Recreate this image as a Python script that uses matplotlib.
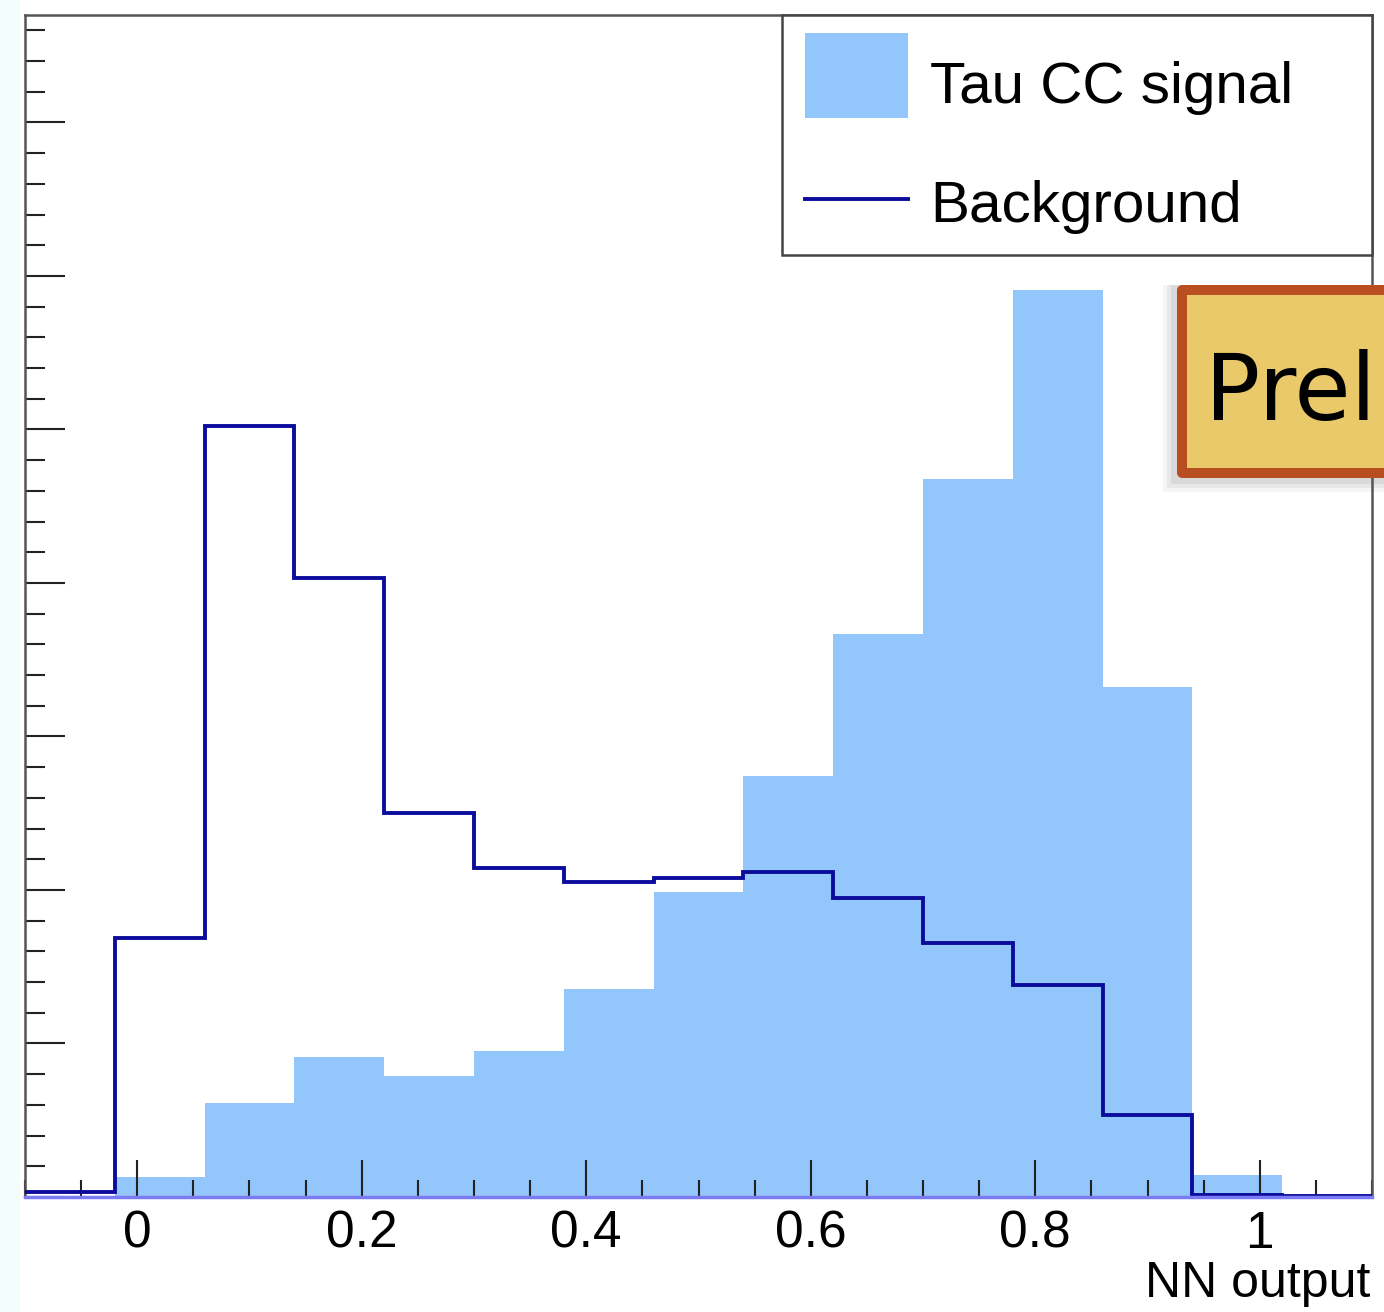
import matplotlib
matplotlib.use('Agg')
import matplotlib.pyplot as plt
from matplotlib.patches import Rectangle
from matplotlib.lines import Line2D
from matplotlib.ticker import MultipleLocator, FixedLocator

# ---------------- data ----------------
bin_edges = [-0.10, -0.02, 0.06, 0.14, 0.22, 0.30, 0.38, 0.46, 0.54,
             0.62, 0.70, 0.78, 0.86, 0.94, 1.02, 1.10]
signal = [0.0, 0.13, 0.61, 0.91, 0.79, 0.95, 1.355, 1.99, 2.74,
          3.67, 4.68, 5.91, 3.32, 0.143, 0.0]
background = [0.033, 1.69, 5.02, 4.03, 2.50, 2.14, 2.05, 2.08, 2.12,
              1.95, 1.655, 1.38, 0.535, 0.015, 0.006]
x_ticks = [0.0, 0.2, 0.4, 0.6, 0.8, 1.0]
x_tick_labels = ['0', '0.2', '0.4', '0.6', '0.8', '1']
series_labels = ['Tau CC signal', 'Background']
x_title = 'NN output'
stamp_text = 'Prel'

# ---------------- style ----------------
plt.rcParams['font.family'] = ['Liberation Sans', 'DejaVu Sans']
SIG_COLOR = '#93c6fa'
BKG_COLOR = '#0c0c9c'

W, H = 1384, 1312
fig = plt.figure(figsize=(W / 100, H / 100), dpi=100)
fig.patch.set_facecolor('white')


def fx(x):
    return x / W


def fy(y):
    return 1 - y / H


# faint left strip
fig.add_artist(Rectangle((0, 0), fx(20), 1, transform=fig.transFigure,
                         facecolor='#f3fdfd', edgecolor='none', zorder=0))

ax = fig.add_axes([fx(25), fy(1197), fx(1372) - fx(25), fy(15) - fy(1197)])
ax.set_facecolor('white')

ax.stairs(signal, bin_edges, fill=True, color=SIG_COLOR, lw=0, zorder=1)
ax.stairs(background, bin_edges, baseline=None, color=BKG_COLOR, lw=2.8, zorder=3)

ax.set_xlim(-0.1, 1.1)
ax.set_ylim(0, 7.70)

ax.xaxis.set_major_locator(FixedLocator(x_ticks))
ax.set_xticklabels(x_tick_labels)
ax.xaxis.set_minor_locator(MultipleLocator(0.05))
ax.yaxis.set_major_locator(MultipleLocator(1))
ax.yaxis.set_minor_locator(MultipleLocator(0.2))

ax.tick_params(axis='x', which='major', direction='in', length=26.6, width=1.5,
               color='#222222', labelsize=37, pad=9, top=False)
ax.tick_params(axis='x', which='minor', direction='in', length=12, width=1.5,
               color='#222222', top=False)
ax.tick_params(axis='y', which='major', direction='in', length=28.8, width=1.5,
               color='#222222', labelleft=False, right=False)
ax.tick_params(axis='y', which='minor', direction='in', length=14.4, width=1.5,
               color='#222222', right=False)

for s in ['top', 'left', 'right']:
    ax.spines[s].set_color('#555555')
    ax.spines[s].set_linewidth(1.8)
ax.spines['bottom'].set_color('#7b7bf6')
ax.spines['bottom'].set_linewidth(2.5)
ax.spines['bottom'].set_zorder(5)

fig.text(fx(1370), fy(1297), x_title, ha='right', va='baseline', fontsize=36)

# ---------------- legend ----------------
fig.add_artist(Rectangle((fx(782), fy(255)), fx(1372) - fx(782), fy(15) - fy(255),
                         transform=fig.transFigure, facecolor='white',
                         edgecolor='#444444', lw=1.8, zorder=5))
fig.add_artist(Rectangle((fx(805), fy(118)), fx(908) - fx(805), fy(33) - fy(118),
                         transform=fig.transFigure, facecolor=SIG_COLOR,
                         edgecolor='none', zorder=6))
fig.add_artist(Line2D([fx(805), fx(908)], [fy(199), fy(199)],
                      transform=fig.transFigure, color=BKG_COLOR, lw=2.8, zorder=6))
fig.text(fx(930), fy(103), series_labels[0], va='baseline', fontsize=42, zorder=7)
fig.text(fx(930), fy(222), series_labels[1], va='baseline', fontsize=42, zorder=7)

# ---------------- stamp box ----------------
for k, a in [(14, 0.06), (10, 0.08), (6, 0.10)]:
    fig.add_artist(Rectangle((fx(1177 - k), fy(478 + k)), fx(1420) - fx(1177 - k),
                             fy(285) - fy(478 + k), transform=fig.transFigure,
                             facecolor='#555555', edgecolor='none', alpha=a, zorder=7))
fig.add_artist(Rectangle((fx(1182), fy(473)), fx(1420) - fx(1182), fy(290) - fy(473),
                         transform=fig.transFigure, facecolor='#e9c96a',
                         edgecolor='#b94f21', lw=7.2, joinstyle='round', zorder=8))
fig.text(fx(1205), fy(420), stamp_text, va='baseline', fontsize=66,
         family='DejaVu Sans', color='black', zorder=9)

fig.savefig('out.png', dpi=100, facecolor=fig.get_facecolor())
